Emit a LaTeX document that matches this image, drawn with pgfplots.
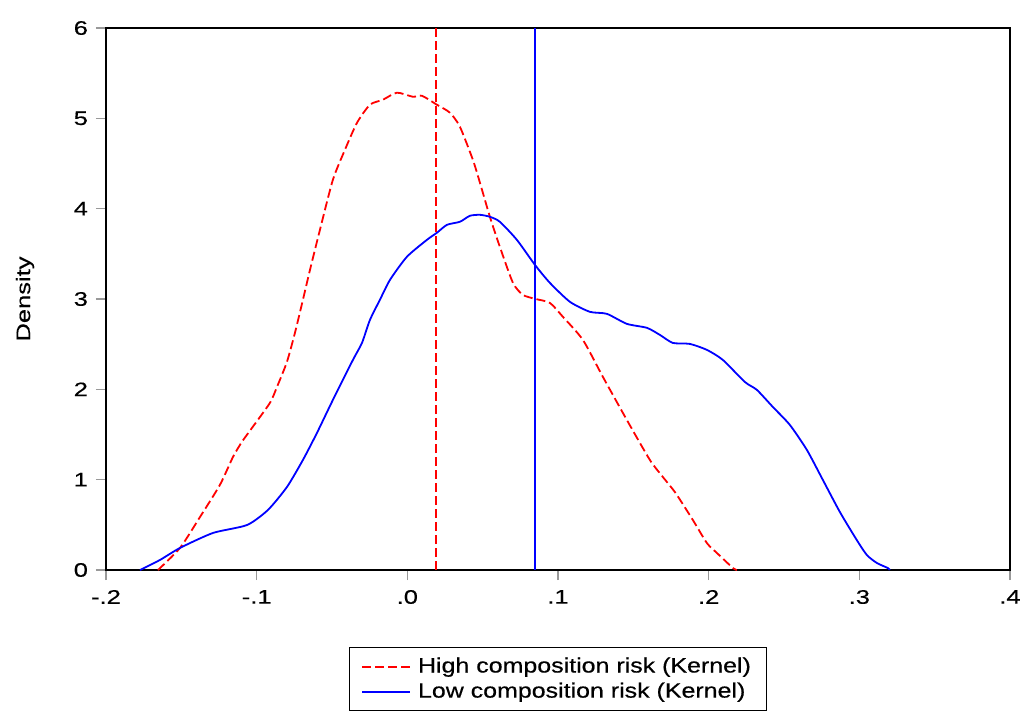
\documentclass[border=0pt]{standalone}
\usepackage{pgfplots}
\pgfplotsset{compat=1.18}
\usepackage{fontspec}
\setmainfont[FakeStretch=1.3]{Liberation Sans}
\newfontfamily\tickfont[FakeStretch=1.3,FakeBold=0.4]{Liberation Sans}
\newfontfamily\legfont[FakeStretch=1.2,FakeBold=0.4]{Liberation Sans}
\begin{document}
\begin{tikzpicture}
\path[use as bounding box] (-53pt,-71.5pt) rectangle (459pt,285pt);
\begin{axis}[
  at={(0,0)}, anchor=south west,
  scale only axis, width=452pt, height=271pt,
  xmin=-0.2, xmax=0.4, ymin=0, ymax=6,
  xtick={-0.2,-0.1,0,0.1,0.2,0.3,0.4},
  xticklabels={-.2,-.1,.0,.1,.2,.3,.4},
  ytick={0,1,2,3,4,5,6},
  yticklabels={0,1,2,3,4,5,6},
  xtick pos=bottom, ytick pos=left,
  tick align=outside, major tick length=5pt,
  tick style={gray!80, line width=0.6pt},
  axis line style={black, line width=0.8pt},
  ticklabel style={font=\tickfont\fontsize{9.8}{11}\selectfont, black},
  xticklabel style={yshift=-1.5pt},
  yticklabel style={xshift=-0.5pt},
  ylabel={Density},
  ylabel style={font=\tickfont\fontsize{9.8}{11}\selectfont, at={(axis description cs:-0.0896,0.5)}, anchor=center},
  legend style={at={(0.5,-0.142)}, anchor=north, draw=black, line width=0.5pt,
    font=\legfont\fontsize{10.4}{12.5}\selectfont, cells={anchor=west}, inner xsep=6pt, inner ysep=3pt, row sep=-0.5pt,
    /tikz/every odd column/.append style={column sep=1.5pt}},
  legend image code/.code={\draw[#1, line width=1pt] (0pt,0pt) -- (24pt,0pt);},
]
\addplot[red, line width=0.9pt, dash pattern=on 4.5pt off 2pt, smooth, tension=0.4] coordinates {
(-0.1655,0) (-0.1509,0.244) (-0.1376,0.587) (-0.1244,0.942) (-0.1157,1.252) (-0.1098,1.418)
(-0.1031,1.573) (-0.0912,1.850) (-0.0865,2.027) (-0.0799,2.304) (-0.0746,2.625) (-0.0693,2.991)
(-0.0646,3.323) (-0.0580,3.766) (-0.0494,4.320) (-0.0414,4.652) (-0.0334,4.951) (-0.0248,5.151)
(-0.0162,5.206) (-0.0069,5.284) (0.0037,5.239) (0.0097,5.250) (0.0196,5.151) (0.0283,5.062)
(0.0349,4.907) (0.0435,4.541) (0.0482,4.287) (0.0548,3.910) (0.0614,3.578) (0.0701,3.179)
(0.0767,3.046) (0.0847,3.002) (0.0946,2.957) (0.1033,2.802) (0.1165,2.548) (0.1298,2.138)
(0.1457,1.661) (0.1610,1.218) (0.1696,1.030) (0.1780,0.853) (0.1895,0.554) (0.1988,0.299)
(0.2055,0.188) (0.2161,0.022) (0.2187,0)
};
\addlegendentry{High composition risk (Kernel)}
\addplot[blue, line width=0.9pt, smooth, tension=0.4] coordinates {
(-0.1774,0) (-0.1642,0.111) (-0.1509,0.244) (-0.1290,0.410) (-0.1064,0.498) (-0.0925,0.665)
(-0.0799,0.919) (-0.0693,1.218) (-0.0600,1.517) (-0.0494,1.883) (-0.0361,2.326) (-0.0301,2.514)
(-0.0248,2.769) (-0.0182,2.991) (-0.0115,3.212) (-0.0003,3.467) (0.0130,3.655) (0.0196,3.733)
(0.0263,3.821) (0.0349,3.855) (0.0415,3.921) (0.0482,3.932) (0.0548,3.910) (0.0614,3.855)
(0.0727,3.655) (0.0847,3.378) (0.0946,3.179) (0.1079,2.969) (0.1212,2.858) (0.1324,2.836)
(0.1457,2.725) (0.1590,2.681) (0.1676,2.603) (0.1762,2.514) (0.1875,2.503) (0.1988,2.437)
(0.2094,2.326) (0.2240,2.082) (0.2320,1.994) (0.2426,1.805) (0.2539,1.606) (0.2652,1.329)
(0.2758,0.997) (0.2871,0.642) (0.2983,0.332) (0.3050,0.166) (0.3116,0.078) (0.3189,0.022) (0.3202,0)
};
\addlegendentry{Low composition risk (Kernel)}
\addplot[red, line width=0.9pt, dash pattern=on 4.5pt off 2pt, forget plot] coordinates {(0.019,0) (0.019,6)};
\addplot[blue, line width=0.9pt, forget plot] coordinates {(0.0847,0) (0.0847,6)};
\end{axis}
\end{tikzpicture}
\end{document}
